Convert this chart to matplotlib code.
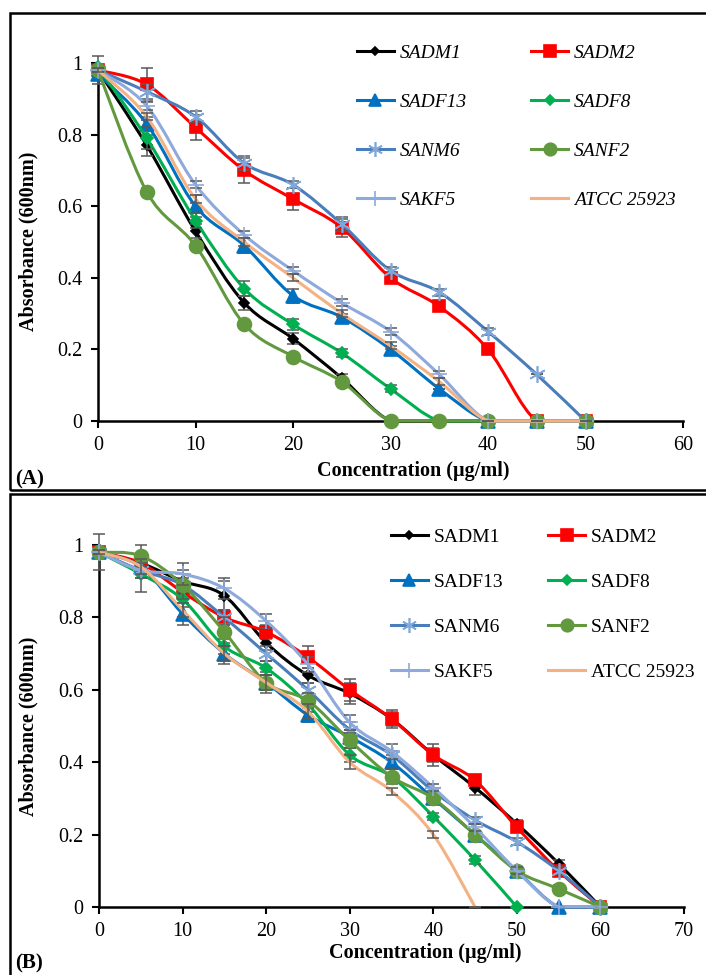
import matplotlib
matplotlib.use("Agg")
import matplotlib.pyplot as plt
import numpy as np
from matplotlib.path import Path
from matplotlib.patches import PathPatch, Rectangle
from matplotlib.lines import Line2D

plt.rcParams["font.family"] = ["Liberation Serif", "DejaVu Serif"]

W, H = 706, 975

names = ["SADM1", "SADM2", "SADF13", "SADF8", "SANM6", "SANF2", "SAKF5", "ATCC 25923"]

# panel (A)
conc_a = [0, 5, 10, 15, 20, 25, 30, 35, 40, 45, 50]
a_sadm1 = [0.98, 0.77, 0.53, 0.33, 0.23, 0.12, 0, 0, 0, 0, 0]
a_sadm2 = [0.98, 0.94, 0.82, 0.70, 0.62, 0.54, 0.40, 0.32, 0.20, 0, 0]
a_sadf13 = [0.97, 0.83, 0.60, 0.49, 0.35, 0.29, 0.20, 0.09, 0, 0, 0]
a_sadf8 = [0.99, 0.79, 0.56, 0.37, 0.27, 0.19, 0.09, 0, 0, 0, 0]
a_sanm6 = [0.98, 0.92, 0.85, 0.72, 0.66, 0.55, 0.42, 0.36, 0.25, 0.13, 0]
a_sanf2 = [0.98, 0.64, 0.49, 0.27, 0.18, 0.11, 0, 0, 0, 0, 0]
a_sakf5 = [0.98, 0.88, 0.66, 0.52, 0.42, 0.33, 0.25, 0.13, 0, 0, 0]
a_atcc = [0.98, 0.85, 0.62, 0.50, 0.40, 0.30, 0.21, 0.11, 0, 0, 0]

a_err_sadm1 = [0.04, 0.03, 0.02, 0.02, 0.015, 0.01, 0, 0, 0, 0, 0]
a_err_sadm2 = [0.005, 0.045, 0.035, 0.035, 0.03, 0.025, 0.01, 0, 0, 0, 0]
a_err_sadf13 = [0.005, 0.02, 0.03, 0.02, 0.02, 0.01, 0.01, 0, 0, 0, 0]
a_err_sadf8 = [0.005, 0.03, 0.02, 0.02, 0.015, 0.01, 0.01, 0, 0, 0, 0]
a_err_sanm6 = [0.005, 0.02, 0.015, 0.02, 0.01, 0.02, 0.01, 0.01, 0.01, 0, 0]
a_err_sanf2 = [0.005, 0.01, 0.01, 0.01, 0.01, 0.01, 0, 0, 0, 0, 0]
a_err_sakf5 = [0.005, 0.01, 0.01, 0.01, 0.01, 0.01, 0.01, 0.01, 0, 0, 0]
a_err_atcc = [0.005, 0.01, 0.01, 0.01, 0.01, 0.01, 0.01, 0.01, 0, 0, 0]

# panel (B)
conc_b = [0, 5, 10, 15, 20, 25, 30, 35, 40, 45, 50, 55, 60]
b_sadm1 = [0.98, 0.95, 0.90, 0.86, 0.73, 0.64, 0.59, 0.52, 0.42, 0.33, 0.23, 0.12, 0]
b_sadm2 = [0.98, 0.95, 0.87, 0.80, 0.76, 0.69, 0.60, 0.52, 0.42, 0.35, 0.22, 0.10, 0]
b_sadf13 = [0.98, 0.94, 0.81, 0.70, 0.62, 0.53, 0.47, 0.40, 0.30, 0.20, 0.10, 0, 0]
b_sadf8 = [0.98, 0.92, 0.85, 0.72, 0.66, 0.56, 0.42, 0.36, 0.25, 0.13, 0]
b_sanm6 = [0.98, 0.93, 0.89, 0.80, 0.70, 0.60, 0.49, 0.42, 0.32, 0.24, 0.18, 0.10, 0]
b_sanf2 = [0.98, 0.97, 0.89, 0.76, 0.62, 0.57, 0.46, 0.36, 0.30, 0.20, 0.10, 0.05, 0]
b_sakf5 = [0.98, 0.93, 0.92, 0.88, 0.79, 0.67, 0.51, 0.43, 0.33, 0.22, 0.10, 0, 0]
b_atcc = [0.98, 0.94, 0.82, 0.70, 0.62, 0.54, 0.40, 0.32, 0.20, 0]

b_err_sadm1 = [0.05, 0.02, 0.02, 0.04, 0.02, 0.02, 0.03, 0.02, 0.03, 0.02, 0.01, 0.01, 0]
b_err_sadm2 = [0.005, 0.02, 0.02, 0.02, 0.02, 0.03, 0.03, 0.025, 0.02, 0.01, 0.01, 0.01, 0]
b_err_sadf13 = [0.005, 0.02, 0.03, 0.03, 0.03, 0.02, 0.02, 0.02, 0.01, 0.01, 0.01, 0, 0]
b_err_sadf8 = [0.005, 0.05, 0.02, 0.02, 0.02, 0.02, 0.02, 0.01, 0.01, 0.01, 0]
b_err_sanm6 = [0.005, 0.02, 0.02, 0.02, 0.02, 0.02, 0.02, 0.01, 0.01, 0.01, 0.01, 0.01, 0]
b_err_sanf2 = [0.005, 0.03, 0.04, 0.04, 0.02, 0.02, 0.02, 0.02, 0.01, 0.01, 0.01, 0.01, 0]
b_err_sakf5 = [0.005, 0.02, 0.03, 0.03, 0.02, 0.02, 0.02, 0.02, 0.01, 0.01, 0.01, 0, 0]
b_err_atcc = [0.005, 0.02, 0.02, 0.02, 0.02, 0.02, 0.02, 0.01, 0.01, 0]

styles = {
    "SADM1": dict(color="black", marker="D", ms=5, mec="black"),
    "SADM2": dict(color="#FF0000", marker="s", ms=9, mec="#FF0000"),
    "SADF13": dict(color="#0070C0", marker="^", ms=10, mec="#0070C0"),
    "SADF8": dict(color="#00B050", marker="D", ms=6, mec="#00B050"),
    "SANM6": dict(color="#4A7EBB", marker=(6, 2, 0), ms=12, mec="#7FA7D9"),
    "SANF2": dict(color="#62993E", marker="o", ms=10, mec="#62993E"),
    "SAKF5": dict(color="#8EA9DB", marker="+", ms=12, mec="#8EA9DB"),
    "ATCC 25923": dict(color="#F4B183", marker=None, ms=0, mec="#F4B183"),
}


def smooth_path(x, y):
    # Excel style smoothed line as cubic Bezier segments
    x = np.asarray(x, float)
    y = np.asarray(y, float)
    n = len(x)
    verts = [(x[0], y[0])]
    codes = [Path.MOVETO]
    for i in range(n - 1):
        a = i - 1 if i > 0 else i
        b = i + 2 if i + 2 < n else i + 1
        c1 = (x[i] + (x[i + 1] - x[a]) / 6, max(0, y[i] + (y[i + 1] - y[a]) / 6))
        c2 = (x[i + 1] - (x[b] - x[i]) / 6, max(0, y[i + 1] - (y[b] - y[i]) / 6))
        verts += [c1, c2, (x[i + 1], y[i + 1])]
        codes += [Path.CURVE4] * 3
    return Path(verts, codes)


def draw_panel(ax, conc_list, values, errors, xmax):
    for k, (name, y, e) in enumerate(zip(names, values, errors)):
        st = styles[name]
        x = conc_list[: len(y)]
        ax.add_patch(PathPatch(smooth_path(x, y), fill=False, ec=st["color"],
                               lw=2.2, zorder=3 + k, clip_on=False))
        ax.errorbar(x, y, yerr=e, fmt="none", ecolor="#595959", elinewidth=1.1,
                    capsize=4, capthick=1.1, zorder=3 + k, clip_on=False)
        if st["marker"] is not None:
            ax.plot(x, y, ls="none", marker=st["marker"], ms=st["ms"],
                    color=st["color"], mec=st["mec"], mew=1.2,
                    zorder=3.5 + k, clip_on=False)
    ax.set_xlim(0, xmax)
    ax.set_ylim(0, 1)
    ax.set_xticks(range(0, xmax + 1, 10))
    ax.set_yticks([0, 0.2, 0.4, 0.6, 0.8, 1])
    ax.set_yticklabels(["0", "0.2", "0.4", "0.6", "0.8", "1"])
    for s in ["top", "right"]:
        ax.spines[s].set_visible(False)
    for s in ["left", "bottom"]:
        ax.spines[s].set_linewidth(1.8)
        ax.spines[s].set_zorder(2)
    ax.tick_params(direction="out", length=5, width=1.5, labelsize=14.5, pad=6)


def legend_handles():
    hs = []
    for name in names:
        st = styles[name]
        hs.append(Line2D([], [], color=st["color"], lw=2.2, marker=st["marker"],
                         ms=st["ms"] * 0.9, mec=st["mec"], mew=1.2))
    return hs


def px_axes(fig, left, right, top, bottom):
    return fig.add_axes([left / W, 1 - bottom / H, (right - left) / W, (bottom - top) / H])


fig = plt.figure(figsize=(W / 100, H / 100), dpi=100)

# panel frames
fig.patches.append(Rectangle((10 / W, 1 - 490 / H), 1.0, (490 - 13) / H,
                             transform=fig.transFigure, fill=False, lw=1.8, ec="black"))
fig.patches.append(Rectangle((10 / W, -0.01), 1.0, (1 - 494 / H) + 0.01,
                             transform=fig.transFigure, fill=False, lw=1.8, ec="black"))

ax_a = px_axes(fig, 98, 683, 63, 421)
draw_panel(ax_a, conc_a,
           [a_sadm1, a_sadm2, a_sadf13, a_sadf8, a_sanm6, a_sanf2, a_sakf5, a_atcc],
           [a_err_sadm1, a_err_sadm2, a_err_sadf13, a_err_sadf8, a_err_sanm6,
            a_err_sanf2, a_err_sakf5, a_err_atcc], 60)

ax_b = px_axes(fig, 99, 684, 545, 907)
draw_panel(ax_b, conc_b,
           [b_sadm1, b_sadm2, b_sadf13, b_sadf8, b_sanm6, b_sanf2, b_sakf5, b_atcc],
           [b_err_sadm1, b_err_sadm2, b_err_sadf13, b_err_sadf8, b_err_sanm6,
            b_err_sanf2, b_err_sakf5, b_err_atcc], 70)

# legends: two columns, filled row by row
order = [0, 2, 4, 6, 1, 3, 5, 7]
hs = legend_handles()
leg_a = fig.legend([hs[i] for i in order], [names[i] for i in order], ncol=2,
                   loc="upper left", bbox_to_anchor=(357 / W, 1 - 44 / H),
                   frameon=False, borderpad=0, borderaxespad=0, handlelength=1.9,
                   handletextpad=0.3, columnspacing=3.3, labelspacing=1.62,
                   prop=dict(family="Liberation Serif", style="italic", size=14))
leg_b = fig.legend([hs[i] for i in order], [names[i] for i in order], ncol=2,
                   loc="upper left", bbox_to_anchor=(391 / W, 1 - 528 / H),
                   frameon=False, borderpad=0, borderaxespad=0, handlelength=1.9,
                   handletextpad=0.3, columnspacing=2.3, labelspacing=1.41,
                   prop=dict(family="Liberation Serif", size=14))

lab = dict(fontsize=14.5, fontweight="bold", ha="center", va="center")
fig.text(413 / W, 1 - 471 / H, "Concentration (µg/ml)", **lab)
fig.text(425 / W, 1 - 953 / H, "Concentration (µg/ml)", **lab)
fig.text(28 / W, 1 - 241 / H, "Absorbance (600nm)", rotation=90, **lab)
fig.text(28 / W, 1 - 726 / H, "Absorbance (600nm)", rotation=90, **lab)
fig.text(15 / W, 1 - 479 / H, "(A)", fontsize=15, fontweight="bold", ha="left", va="center")
fig.text(15 / W, 1 - 963 / H, "(B)", fontsize=15, fontweight="bold", ha="left", va="center")

fig.savefig("out.png", dpi=100)
